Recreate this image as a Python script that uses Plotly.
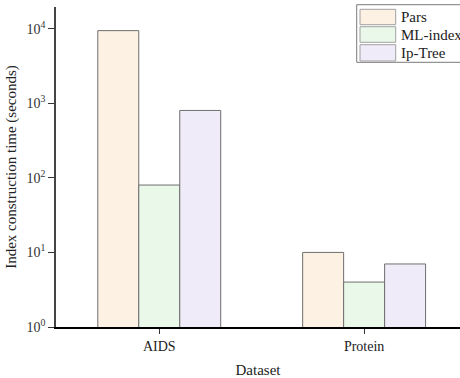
import plotly.graph_objects as go

categories = ["AIDS", "Protein"]
series_names = ["Pars", "ML-index", "Ip-Tree"]
pars_values = [9400, 10]
mlindex_values = [80, 4]
iptree_values = [800, 7]
ytick_vals = [1, 10, 100, 1000, 10000]
ytick_text = ["10<sup>0</sup>", "10<sup>1</sup>", "10<sup>2</sup>", "10<sup>3</sup>", "10<sup>4</sup>"]

colors = ["#FDF1E3", "#E9F8E9", "#F0EBF8"]
all_values = [pars_values, mlindex_values, iptree_values]
FONT = "Liberation Serif, Times New Roman, serif"

fig = go.Figure()
for name, vals, col in zip(series_names, all_values, colors):
    fig.add_trace(go.Bar(
        x=categories, y=vals, name=name,
        marker=dict(color=col, line=dict(color="#6e6e6e", width=1)),
        showlegend=False,
    ))

# custom legend (paper coords) so it can be cut by the right edge like the reference
W, H = 460, 378
ml, mr, mt, mb = 56, 0, 7, 51
pw, ph = W - ml - mr, H - mt - mb
def px(x):
    return (x - ml) / pw
def py(y):
    return 1 - (y - mt) / ph

shapes = [dict(type="rect", xref="paper", yref="paper",
               x0=px(356.7), x1=px(475), y0=py(62.3), y1=py(4.7),
               line=dict(color="#7a7a7a", width=1), fillcolor="white", layer="above")]
annotations = []
rows = [(9.3, 24.7), (26.7, 42.3), (44.7, 61.0)]
for (y0, y1), name, col in zip(rows, series_names, colors):
    shapes.append(dict(type="rect", xref="paper", yref="paper",
                       x0=px(360), x1=px(395.7), y0=py(y1), y1=py(y0),
                       line=dict(color="#a0a0a0", width=1), fillcolor=col, layer="above"))
    annotations.append(dict(xref="paper", yref="paper", x=px(398.5), y=py((y0 + y1) / 2),
                            text=name, showarrow=False, xanchor="left", yanchor="middle",
                            font=dict(family=FONT, size=15, color="#222")))

fig.update_layout(
    width=W, height=H,
    margin=dict(l=ml, r=mr, t=mt, b=mb, pad=0),
    paper_bgcolor="white", plot_bgcolor="white",
    barmode="group", bargap=0.4, bargroupgap=0,
    font=dict(family=FONT, size=14, color="#222"),
    shapes=shapes, annotations=annotations,
    showlegend=False,
)
fig.update_xaxes(
    range=[-0.504, 1.468],
    showline=True, linecolor="black", linewidth=1.5,
    ticks="outside", ticklen=5, tickwidth=1.2, tickcolor="#333",
    showgrid=False, zeroline=False,
    tickfont=dict(family=FONT, size=14, color="#222"),
    title=dict(text="Dataset", font=dict(family=FONT, size=15, color="#222"), standoff=12),
)
fig.update_yaxes(
    type="log", range=[0, 4.29],
    tickvals=ytick_vals, ticktext=ytick_text,
    showline=True, linecolor="#444", linewidth=1.5,
    ticks="outside", ticklen=6, tickwidth=1.2, tickcolor="#333",
    showgrid=False, zeroline=False,
    tickfont=dict(family=FONT, size=14, color="#333"),
    title=dict(text="Index construction time (seconds)", font=dict(family=FONT, size=15, color="#222"), standoff=6),
)
fig.write_html("out.html")
